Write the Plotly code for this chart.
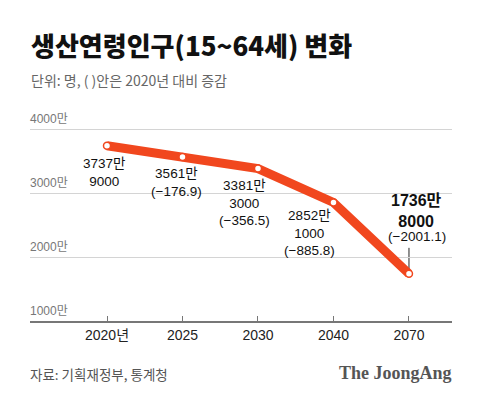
import plotly.graph_objects as go

years = ["2020년", "2025", "2030", "2040", "2070"]
population = [3737.9, 3561.9, 3381.3, 2852.1, 1736.8]  # 만 명
labels = ["3737만<br>9000", "3561만<br>(−176.9)", "3381만<br>3000<br>(−356.5)",
          "2852만<br>1000<br>(−885.8)", "1736만<br>8000"]
last_change = "(−2001.1)"
y_ticks = [1000, 2000, 3000, 4000]
y_tick_text = ["1000만", "2000만", "3000만", "4000만"]

FONT = "Liberation Sans, Noto Sans CJK KR, sans-serif"
KFONT = "Noto Sans CJK KR, Liberation Sans, sans-serif"
ORANGE = "#F1471E"

xs = list(range(len(years)))

fig = go.Figure()
fig.add_trace(go.Scatter(
    x=xs, y=population, mode="lines",
    line=dict(color=ORANGE, width=9), hoverinfo="skip", showlegend=False))
fig.add_trace(go.Scatter(
    x=xs, y=population, mode="markers",
    marker=dict(color="white", size=7, line=dict(color=ORANGE, width=1.5)),
    hoverinfo="skip", showlegend=False))

ann = []
offsets = [(-3, -27), (-6, -25.5), (-13, -34.5), (-24, -31), (8, 63)]
for i, (txt, (dx, dy)) in enumerate(zip(labels, offsets)):
    last = i == len(labels) - 1
    ann.append(dict(
        x=xs[i], y=population[i], xref="x", yref="y", text=("<b>%s</b>" % txt) if last else txt,
        showarrow=False, xanchor="center", yanchor="middle", xshift=dx, yshift=dy,
        font=dict(family=FONT, size=16 if last else 13.5, color="#111")))
ann.append(dict(
    x=xs[-1], y=population[-1], xref="x", yref="y", text=last_change,
    showarrow=False, xanchor="center", yanchor="middle", xshift=8, yshift=37.5,
    font=dict(family=FONT, size=13.5, color="#111")))

for v, t in zip(y_ticks, y_tick_text):
    ann.append(dict(
        x=0, y=v, xref="paper", yref="y", text=t, showarrow=False,
        xanchor="left", yanchor="bottom", yshift=1, xshift=-2,
        font=dict(family=FONT, size=12, color="#777")))

def py(p):
    return (321 - p) / 195.0

ann.append(dict(x=0, y=py(45), xref="paper", yref="paper", xanchor="left", yanchor="middle",
                xshift=-1, text="생산연령인구(15~64세) 변화", showarrow=False,
                font=dict(family=KFONT, size=26, color="#111", weight=900)))
ann.append(dict(x=0, y=py(80), xref="paper", yref="paper", xanchor="left", yanchor="middle",
                xshift=-1, text="단위: 명, ( )안은 2020년 대비 증감", showarrow=False,
                font=dict(family=KFONT, size=14, color="#666")))
ann.append(dict(x=0, y=py(374), xref="paper", yref="paper", xanchor="left", yanchor="middle",
                xshift=-2, text="자료: 기획재정부, 통계청", showarrow=False,
                font=dict(family=KFONT, size=13.5, color="#555")))
ann.append(dict(x=1, y=py(373), xref="paper", yref="paper", xanchor="right", yanchor="middle",
                xshift=2, text="<b>The JoongAng</b>", showarrow=False,
                font=dict(family="Liberation Serif, serif", size=18, color="#555")))

fig.add_shape(type="line", xref="x", yref="y", x0=xs[-1], x1=xs[-1],
              ysizemode="pixel", yanchor=population[-1], y0=4, y1=26,
              line=dict(color="#222", width=1), layer="below")

# page has 8px default body margin: compensate so plot area sits at x 30..452, y 126..321
fig.update_layout(
    width=472, height=389,
    margin=dict(l=22, r=28, t=118, b=76),
    paper_bgcolor="white", plot_bgcolor="white",
    annotations=ann,
    xaxis=dict(range=[-1.02, 4.57], tickmode="array", tickvals=xs, ticktext=years,
               showgrid=False, zeroline=False, showline=True, linecolor="#777", linewidth=2,
               ticks="inside", ticklen=5, tickwidth=1, tickcolor="#777",
               tickfont=dict(family=FONT, size=14, color="#222"), fixedrange=True),
    yaxis=dict(range=[1000, 4047], tickmode="array", tickvals=y_ticks,
               showticklabels=False, showgrid=True, gridcolor="#d4d4d4", gridwidth=1,
               zeroline=False, showline=False, fixedrange=True),
)

fig.write_html("out.html")
